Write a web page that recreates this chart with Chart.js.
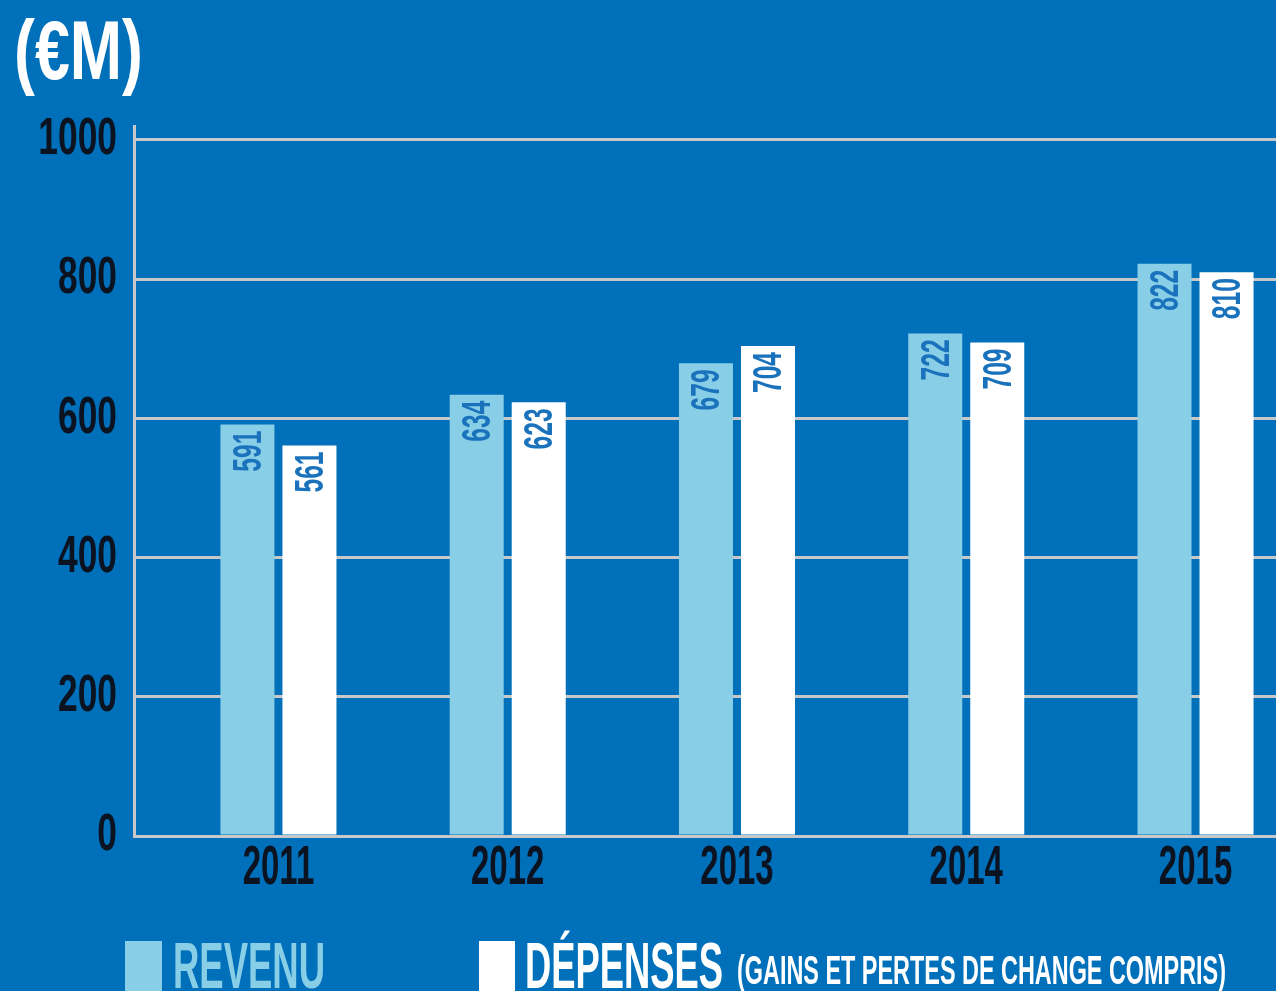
<!DOCTYPE html>
<html><head><meta charset="utf-8">
<script src="https://cdn.jsdelivr.net/npm/chart.js@4.4.1/dist/chart.umd.min.js"></script>
<style>
html,body{margin:0;padding:0;background:#0070ba;overflow:hidden;}
#wrap{position:relative;width:1276px;height:991px;background:#0070ba;}
canvas{position:absolute;left:0;top:0;}
.cond{position:absolute;white-space:nowrap;font-family:'Liberation Sans',Arial,sans-serif;font-weight:bold;transform-origin:0 0;line-height:1;}
.sw{position:absolute;}
</style></head>
<body><div id="wrap"><canvas id="c" width="1276" height="991"></canvas></div>
<script>
const categories = [2011, 2012, 2013, 2014, 2015];
const revenu = [591, 634, 679, 722, 822];
const depenses = [561, 623, 704, 709, 810];
const seriesNames = ['REVENU', 'DÉPENSES'];
const seriesNotes = ['', '(GAINS ET PERTES DE CHANGE COMPRIS)'];
const yTickValues = [0, 200, 400, 600, 800, 1000];
const titleText = '(€M)';

const FONT = "'Liberation Sans', Arial, sans-serif";
const LIGHT = '#87cee6';
const WHITE = '#ffffff';
const GRID = '#c8c8c8';
const INK = '#0b1220';

// Condense library-drawn tick text around each label's own anchor point.
function condenseLabels(scale, sx) {
  if (scale.__condensed) return;
  scale.__condensed = true;
  const orig = scale.drawLabels.bind(scale);
  scale.drawLabels = function (area) {
    const ctx = this.ctx;
    const ft = CanvasRenderingContext2D.prototype.fillText;
    ctx.fillText = function (t, x, y) {
      this.save(); this.translate(x, y); this.scale(sx, 1); ft.call(this, t, 0, 0); this.restore();
    };
    try { orig(area); } finally { delete ctx.fillText; }
  };
}

const condensePlugin = {
  id: 'condense',
  beforeDraw(chart) {
    condenseLabels(chart.scales.y, 0.68);
    condenseLabels(chart.scales.x, 0.6);
  }
};

const barLabels = {
  id: 'barLabels',
  afterDatasetsDraw(chart) {
    const ctx = chart.ctx;
    chart.data.datasets.forEach((ds, di) => {
      const meta = chart.getDatasetMeta(di);
      meta.data.forEach((el, i) => {
        const v = ds.data[i].y;
        ctx.save();
        ctx.translate(el.x, el.y + 6);
        ctx.rotate(-Math.PI / 2);
        ctx.scale(0.6, 1);
        ctx.font = 'bold 41px ' + FONT;
        ctx.fillStyle = '#1b72bc';
        ctx.textAlign = 'right';
        ctx.textBaseline = 'middle';
        ctx.fillText(String(v), 0, 2);
        ctx.restore();
      });
    });
  }
};

const chart = new Chart(document.getElementById('c'), {
  type: 'bar',
  data: {
    datasets: [
      { label: seriesNames[0], data: revenu.map((v, i) => ({ x: categories[i], y: v })), backgroundColor: LIGHT, borderWidth: 0 },
      { label: seriesNames[1], data: depenses.map((v, i) => ({ x: categories[i], y: v })), backgroundColor: WHITE, borderWidth: 0 }
    ]
  },
  options: {
    responsive: false,
    animation: false,
    devicePixelRatio: 1,
    categoryPercentage: 0.541,
    barPercentage: 0.871,
    layout: { padding: { top: 126, left: 0, right: 0, bottom: 95 } },
    plugins: { legend: { display: false }, tooltip: { enabled: false }, title: { display: false } },
    scales: {
      x: {
        type: 'linear',
        offset: false,
        min: 2010.37,
        max: 2015.351,
        grid: { display: false, drawTicks: false },
        border: { display: true, color: GRID, width: 3 },
        afterBuildTicks: (s) => { s.ticks = categories.map(v => ({ value: v })); },
        ticks: {
          includeBounds: false,
          stepSize: 1,
          padding: 0,
          maxRotation: 0,
          color: INK,
          font: { family: FONT, weight: 'bold', size: 55 },
          callback: (v) => String(v)
        },
        afterFit: (s) => { s.height = 60; }
      },
      y: {
        min: 0,
        max: 1020,
        afterBuildTicks: (s) => { s.ticks = yTickValues.map(v => ({ value: v })); },
        grid: { color: GRID, lineWidth: 3, drawTicks: false },
        border: { display: true, color: GRID, width: 3 },
        ticks: {
          padding: 17,
          color: INK,
          font: { family: FONT, weight: 'bold', size: 52 },
          callback: (v) => String(v)
        },
        afterFit: (s) => { s.width = 134; }
      }
    }
  },
  plugins: [condensePlugin, barLabels]
});

// Title and legend (HTML text)
const wrap = document.getElementById('wrap');
function fitText(text, left, top, width, size, color) {
  const d = document.createElement('div');
  d.className = 'cond';
  d.textContent = text;
  d.style.fontSize = size + 'px';
  d.style.left = left + 'px';
  d.style.top = top + 'px';
  d.style.color = color;
  wrap.appendChild(d);
  const w = d.getBoundingClientRect().width;
  d.style.transform = 'scaleX(' + (width / w) + ')';
  return d;
}
function swatch(left, top, w, h, color) {
  const s = document.createElement('div');
  s.className = 'sw';
  s.style.left = left + 'px'; s.style.top = top + 'px';
  s.style.width = w + 'px'; s.style.height = h + 'px';
  s.style.background = color;
  wrap.appendChild(s);
}
fitText(titleText, 14, 8, 129, 84, WHITE);
swatch(125, 941, 37, 50, LIGHT);
fitText(seriesNames[0], 173, 934, 152, 64, LIGHT);
swatch(479, 941, 36, 50, WHITE);
fitText(seriesNames[1], 525, 934, 198, 64, WHITE);
fitText(seriesNotes[1], 737, 950, 489, 41, WHITE);
</script>
</body></html>
